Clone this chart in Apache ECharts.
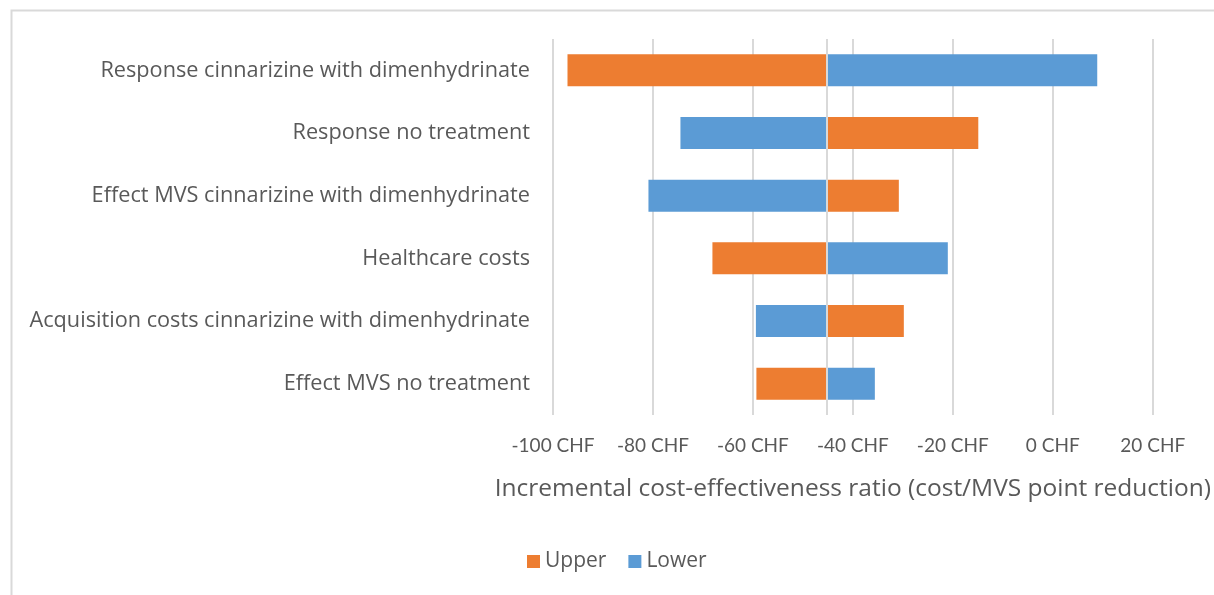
<!DOCTYPE html>
<html>
<head>
<meta charset="utf-8">
<script src="https://cdn.jsdelivr.net/npm/echarts@6/dist/echarts.min.js"></script>
<style>
html,body{margin:0;padding:0;background:#fff;}
#chart{width:1214px;height:595px;}
</style>
</head>
<body>
<div id="chart"></div>
<script>
// ---- data ----
const categories = [
  "Response cinnarizine with dimenhydrinate",
  "Response no treatment",
  "Effect MVS cinnarizine with dimenhydrinate",
  "Healthcare costs",
  "Acquisition costs cinnarizine with dimenhydrinate",
  "Effect MVS no treatment"
];
const upperValues = [-97.1, -14.9, -30.8, -68.1, -29.8, -59.3];
const lowerValues = [8.9, -74.5, -80.9, -21.0, -59.4, -35.6];
const baseValue = -45.15; // base-case ICER where the bars meet
const tickValues = [-100, -80, -60, -40, -20, 0, 20];
const seriesNames = ["Upper", "Lower"];
const axisTitle = "Incremental cost-effectiveness ratio (cost/MVS point reduction)";

const FONT = "'Open Sans', 'Liberation Sans', sans-serif";
const TICKFONT = "Lato, 'Liberation Sans', sans-serif";
const TEXT = "#595959";

function toData(vals) { return vals.map((v, i) => [v, i]); }

function renderBar(params, api) {
  const v = api.value(0);
  const cat = api.value(1);
  const p0 = api.coord([baseValue, cat]);
  const p1 = api.coord([v, cat]);
  const h = api.size([0, 1])[1] * 0.51;
  return {
    type: 'rect',
    shape: { x: Math.min(p0[0], p1[0]), y: p0[1] - h / 2, width: Math.abs(p1[0] - p0[0]), height: h },
    style: api.style()
  };
}

const chart = echarts.init(document.getElementById('chart'), null, { renderer: 'canvas' });
chart.setOption({
  animation: false,
  textStyle: { fontFamily: FONT },
  color: ['#ED7D31', '#5B9BD5'],
  graphic: [{
    type: 'rect', left: 9, top: 8, silent: true,
    shape: { width: 1220, height: 600 },
    style: { fill: 'none', stroke: '#d9d9d9', lineWidth: 2 }
  }],
  grid: { left: 553, right: 61, top: 39, bottom: 180, containLabel: false },
  legend: {
    data: seriesNames, left: 522, top: 546, icon: 'rect', itemWidth: 13, itemHeight: 13,
    itemGap: 22, itemTextGap: 6,
    textStyle: { fontFamily: FONT, fontSize: 21, color: TEXT }
  },
  xAxis: {
    type: 'value', min: tickValues[0], max: tickValues[tickValues.length - 1], interval: 20,
    axisLine: { show: false }, axisTick: { show: false },
    splitLine: { lineStyle: { color: '#d9d9d9', width: 2 } },
    axisLabel: { formatter: v => v + ' CHF', fontSize: 19, color: TEXT, margin: 21, fontFamily: TICKFONT },
    name: axisTitle, nameLocation: 'middle', nameGap: 62,
    nameTextStyle: { fontSize: 24.5, color: TEXT, fontFamily: FONT }
  },
  yAxis: {
    type: 'category', data: categories, inverse: true,
    axisLine: { show: false }, axisTick: { show: false }, splitLine: { show: false },
    axisLabel: { fontSize: 21.7, color: TEXT, margin: 23, fontFamily: FONT }
  },
  series: [
    {
      name: seriesNames[0], type: 'custom', renderItem: renderBar,
      encode: { x: 0, y: 1 }, data: toData(upperValues),
      itemStyle: { color: '#ED7D31' }
    },
    {
      name: seriesNames[1], type: 'custom', renderItem: renderBar,
      encode: { x: 0, y: 1 }, data: toData(lowerValues),
      itemStyle: { color: '#5B9BD5' },
      markLine: {
        silent: true, symbol: 'none', label: { show: false },
        lineStyle: { color: '#d9d9d9', width: 2, type: 'solid' },
        data: [{ xAxis: baseValue }]
      }
    }
  ]
});
</script>
</body>
</html>
